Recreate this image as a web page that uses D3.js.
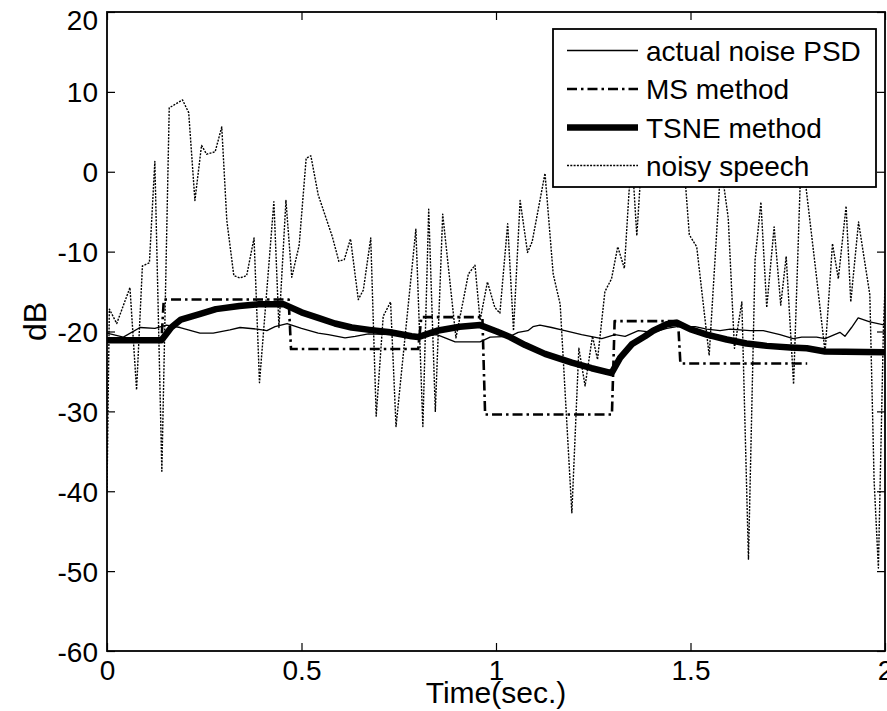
<!DOCTYPE html>
<html>
<head>
<meta charset="utf-8">
<script src="https://cdn.jsdelivr.net/npm/d3@7"></script>
<style>
  html, body { margin: 0; padding: 0; background: #fff; }
  svg { display: block; }
  text { font-family: "Liberation Sans", Arial, Helvetica, sans-serif; fill: #000; }
</style>
</head>
<body>
<svg id="chart" width="887" height="711"></svg>
<script>
// ---------------- data ----------------
const xTicks = [0, 0.5, 1, 1.5, 2];
const xTickLabels = ["0", "0.5", "1", "1.5", "2"];
const yTicks = [-60, -50, -40, -30, -20, -10, 0, 10, 20];
const yTickLabels = ["-60", "-50", "-40", "-30", "-20", "-10", "0", "10", "20"];
const seriesNames = ["actual noise PSD", "MS method", "TSNE method", "noisy speech"];

// actual noise PSD
const actualT = [0, 0.042, 0.085, 0.123, 0.153, 0.188, 0.239, 0.273, 0.316, 0.342, 0.386, 0.411, 0.432, 0.463, 0.500,
  0.543, 0.569, 0.612, 0.638, 0.672, 0.728, 0.779, 0.848, 0.895, 0.959, 0.985, 1.036, 1.057, 1.082, 1.095, 1.113,
  1.143, 1.177, 1.220, 1.272, 1.306, 1.332, 1.366, 1.404, 1.439, 1.465, 1.512, 1.542, 1.576, 1.602, 1.653, 1.687,
  1.730, 1.764, 1.786, 1.824, 1.846, 1.884, 1.897, 1.914, 1.931, 1.961, 2.0];
const actualDB = [-20.2, -20.7, -19.5, -19.6, -19.2, -19.5, -20.2, -20.2, -19.8, -19.5, -19.7, -19.9, -19.4, -19.0, -19.6,
  -20.2, -20.4, -20.8, -20.6, -20.3, -20.4, -20.7, -20.4, -21.3, -21.3, -20.7, -20.6, -20.1, -19.9, -19.4, -19.2,
  -19.5, -19.9, -20.4, -20.9, -20.4, -20.6, -19.9, -20.1, -19.6, -19.4, -19.4, -19.7, -19.9, -19.7, -19.9, -19.9,
  -20.4, -20.9, -20.7, -20.7, -20.9, -20.1, -20.6, -19.5, -18.3, -18.8, -19.2];

// MS method (step estimate)
const msT = [0, 0.140, 0.146, 0.467, 0.473, 0.800, 0.808, 0.965, 0.972, 1.298, 1.305, 1.468, 1.474, 1.800];
const msDB = [-21.1, -21.1, -16.0, -16.0, -22.2, -22.2, -18.2, -18.2, -30.4, -30.4, -18.7, -18.7, -24.0, -24.0];

// TSNE method
const tsneT = [0, 0.140, 0.165, 0.190, 0.240, 0.280, 0.340, 0.390, 0.455, 0.500, 0.543, 0.586, 0.629, 0.675, 0.728,
  0.783, 0.800, 0.848, 0.907, 0.959, 1.002, 1.036, 1.075, 1.126, 1.195, 1.246, 1.297, 1.319, 1.349, 1.383, 1.404,
  1.439, 1.465, 1.499, 1.542, 1.593, 1.644, 1.696, 1.756, 1.799, 1.846, 2.0];
const tsneDB = [-21.1, -21.1, -19.5, -18.5, -17.8, -17.2, -16.8, -16.6, -16.6, -17.6, -18.3, -19.0, -19.5, -19.8, -20.1,
  -20.6, -20.7, -19.9, -19.4, -19.2, -20.0, -20.7, -21.7, -22.8, -23.9, -24.6, -25.2, -23.3, -21.6, -20.6, -19.9,
  -19.1, -18.9, -19.7, -20.4, -21.0, -21.5, -21.8, -22.0, -22.1, -22.5, -22.6];

// noisy speech
const noisyT = [0, 0.006, 0.025, 0.059, 0.076, 0.091, 0.109, 0.123, 0.141, 0.160, 0.194, 0.210, 0.226, 0.243, 0.256,
  0.278, 0.295, 0.308, 0.326, 0.342, 0.359, 0.378, 0.392, 0.429, 0.442, 0.460, 0.475, 0.494, 0.512, 0.524, 0.543,
  0.579, 0.596, 0.610, 0.626, 0.646, 0.659, 0.678, 0.692, 0.710, 0.729, 0.743, 0.794, 0.812, 0.827, 0.844, 0.863,
  0.897, 0.929, 0.946, 0.959, 0.978, 0.997, 1.010, 1.030, 1.045, 1.062, 1.081, 1.093, 1.126, 1.147, 1.165, 1.195,
  1.213, 1.229, 1.248, 1.261, 1.280, 1.297, 1.313, 1.330, 1.342, 1.350, 1.362, 1.375, 1.400, 1.440, 1.480, 1.497,
  1.516, 1.548, 1.578, 1.597, 1.613, 1.632, 1.649, 1.666, 1.681, 1.696, 1.715, 1.732, 1.746, 1.765, 1.785, 1.824,
  1.846, 1.865, 1.880, 1.900, 1.912, 1.932, 1.961, 1.972, 1.983, 1.996, 2.0];
const noisyDB = [-40, -17.2, -19.0, -14.5, -27.3, -11.8, -11.4, 1.3, -37.5, 8.0, 9.0, 7.4, -3.6, 3.3, 2.2,
  2.5, 5.6, -6.1, -13.0, -13.3, -13.0, -8.3, -26.4, -3.75, -19.5, -3.6, -13.2, -9.2, 1.7, 2.0, -2.9,
  -8.1, -11.2, -11.0, -8.4, -16.0, -14.8, -8.3, -30.6, -18.1, -16.3, -31.9, -7.2, -31.9, -4.7, -30.0, -5.3,
  -20.8, -12.8, -11.7, -18.6, -13.8, -17.0, -17.7, -6.5, -19.9, -3.6, -10.1, -8.75, -0.2, -12.8, -16.6, -42.7,
  -22.1, -26.8, -20.6, -23.5, -15.0, -13.4, -9.4, -12.1, -2.5, 1.5, -8.0, 2.0, 6.0, 4.0, 3.0, -7.9,
  -9.4, -23.0, 1.0, -5.8, -22.1, -16.3, -48.5, -11.0, -3.8, -17.0, -6.9, -16.7, -10.6, -26.6, 3.0, -13.2,
  -22.6, -9.0, -13.4, -4.3, -16.3, -6.3, -15.4, -38.7, -49.6, -19.5, -14.6];

// ---------------- chart ----------------
const svg = d3.select("#chart");
const L = 107, R = 885, T = 12, B = 651;
const x = d3.scaleLinear().domain([0, 2]).range([L, R]);
const y = d3.scaleLinear().domain([-60, 20]).range([B, T]);

svg.append("rect").attr("width", 887).attr("height", 711).attr("fill", "#fff");

svg.append("defs").append("clipPath").attr("id", "plotclip")
  .append("rect").attr("x", L).attr("y", T).attr("width", R - L).attr("height", B - T);

const zip = (ts, vs) => ts.map((t, i) => [t, vs[i]]);
const line = d3.line().x(d => x(d[0])).y(d => y(d[1]));

const styles = [
  { w: 1.3, dash: null },
  { w: 2.6, dash: "10,4,2.5,4" },
  { w: 6.5, dash: null },
  { w: 1.4, dash: "2,1.3" }
];
const data = [zip(actualT, actualDB), zip(msT, msDB), zip(tsneT, tsneDB), zip(noisyT, noisyDB)];

const g = svg.append("g").attr("clip-path", "url(#plotclip)");
data.forEach((d, i) => {
  g.append("path").datum(d).attr("d", line)
    .attr("fill", "none").attr("stroke", "#000")
    .attr("stroke-width", styles[i].w)
    .attr("stroke-linejoin", "round")
    .attr("stroke-dasharray", styles[i].dash);
});

// axes with inward ticks on all four sides
const tickLen = 8;
const axB = svg.append("g").attr("transform", `translate(0,${B})`)
  .call(d3.axisBottom(x).tickValues(xTicks).tickSize(-tickLen).tickFormat((d, i) => xTickLabels[i]).tickPadding(9));
const axT = svg.append("g").attr("transform", `translate(0,${T})`)
  .call(d3.axisTop(x).tickValues(xTicks).tickSize(-tickLen).tickFormat(""));
const axL = svg.append("g").attr("transform", `translate(${L},0)`)
  .call(d3.axisLeft(y).tickValues(yTicks).tickSize(-tickLen).tickFormat((d, i) => yTickLabels[i]).tickPadding(9));
const axR = svg.append("g").attr("transform", `translate(${R},0)`)
  .call(d3.axisRight(y).tickValues(yTicks).tickSize(-tickLen).tickFormat(""));
[axB, axT, axL, axR].forEach(a => {
  a.select(".domain").remove();
  a.selectAll("line").attr("stroke", "#000").attr("stroke-width", 1.2);
  a.selectAll("text").style("font-size", "28px").attr("fill", "#000");
});
axB.selectAll("text").attr("dy", "0.71em");
axL.selectAll("text").attr("dy", (d) => d === 20 ? "0.62em" : "0.36em");

svg.append("rect").attr("x", L).attr("y", T).attr("width", R - L).attr("height", B - T)
  .attr("fill", "none").attr("stroke", "#000").attr("stroke-width", 1.8);

// axis labels
svg.append("text").attr("x", (L + R) / 2).attr("y", 703).attr("text-anchor", "middle")
  .style("font-size", "30px").text("Time(sec.)");
svg.append("text").attr("transform", `translate(46,${(T + B) / 2 - 10}) rotate(-90)`)
  .attr("text-anchor", "middle").style("font-size", "32px").text("dB");

// legend
const lg = svg.append("g");
lg.append("rect").attr("x", 553).attr("y", 29).attr("width", 323).attr("height", 158)
  .attr("fill", "#fff").attr("stroke", "#000").attr("stroke-width", 1.8);
const rowY = [50.5, 89, 127.5, 165.5];
seriesNames.forEach((name, i) => {
  lg.append("line").attr("x1", 567).attr("x2", 638).attr("y1", rowY[i]).attr("y2", rowY[i])
    .attr("stroke", "#000").attr("stroke-width", styles[i].w).attr("stroke-dasharray", styles[i].dash);
  lg.append("text").attr("x", 646).attr("y", rowY[i] + 10).style("font-size", "28px").text(name);
});
</script>
</body>
</html>
